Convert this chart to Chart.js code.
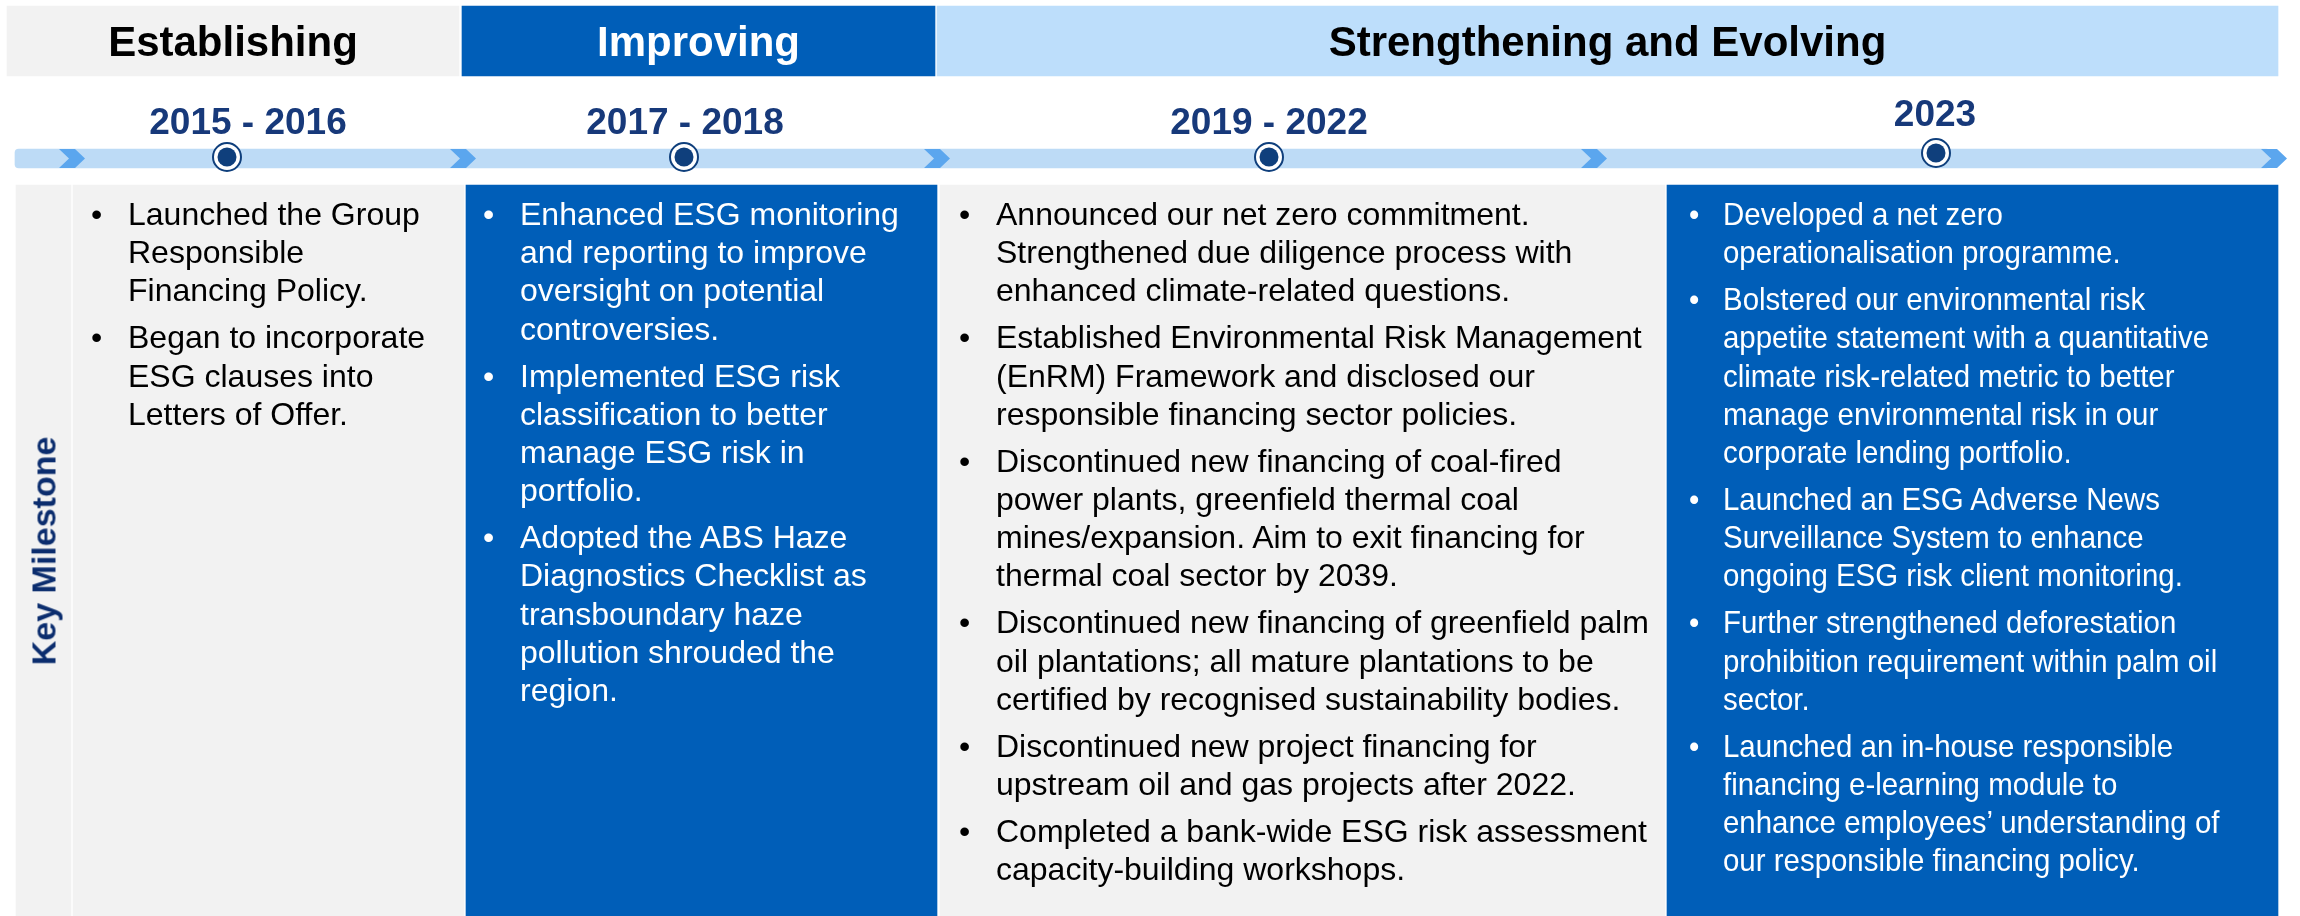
<!DOCTYPE html>
<html>
<head>
<meta charset="utf-8">
<title>Responsible financing journey</title>
<script src="https://cdn.jsdelivr.net/npm/chart.js@4.4.1/dist/chart.umd.min.js"></script>
<style>
    html, body { margin: 0; padding: 0; background: #ffffff; }
    #wrap {
        position: relative;
        width: 2300px;
        height: 916px;
        overflow: hidden;
        font-family: 'Liberation Sans', Arial, sans-serif;
    }
    #chart { position: absolute; left: 0; top: 0; }
    .lbl { position: absolute; white-space: nowrap; transform: translate(-50%, -50%); }
    .phase { font-size: 42px; font-weight: bold; }
    .period { font-size: 37px; font-weight: bold; color: #17397a; }
    .rowlbl { font-size: 34px; font-weight: bold; color: #0b2d6e; transform: translate(-50%, -50%) rotate(-90deg); }
    .col { position: absolute; font-size: 32px; line-height: 38.2px; white-space: nowrap; transform-origin: left top; }
    .item { position: relative; margin-bottom: 8.8px; }
    .item .dot { position: absolute; left: -37px; top: 0; }
</style>
</head>
<body>
<div id="wrap">
    <canvas id="chart" width="2300" height="916"></canvas>
</div>
<script>
// ==========================================
// Data
// ==========================================

const phases = ['Establishing', 'Improving', 'Strengthening and Evolving'];
// first and last period covered by each phase
const phaseFirst = [0, 1, 2];
const phaseLast = [0, 1, 3];

const periods = ['2015 - 2016', '2017 - 2018', '2019 - 2022', '2023'];
const rowLabel = 'Key Milestone';

const milestones2015 = [
    ['Launched the Group', 'Responsible', 'Financing Policy.'],
    ['Began to incorporate', 'ESG clauses into', 'Letters of Offer.']
];
const milestones2017 = [
    ['Enhanced ESG monitoring', 'and reporting to improve', 'oversight on potential', 'controversies.'],
    ['Implemented ESG risk', 'classification to better', 'manage ESG risk in', 'portfolio.'],
    ['Adopted the ABS Haze', 'Diagnostics Checklist as', 'transboundary haze', 'pollution shrouded the', 'region.']
];
const milestones2019 = [
    ['Announced our net zero commitment.', 'Strengthened due diligence process with', 'enhanced climate-related questions.'],
    ['Established Environmental Risk Management', '(EnRM) Framework and disclosed our', 'responsible financing sector policies.'],
    ['Discontinued new financing of coal-fired', 'power plants, greenfield thermal coal', 'mines/expansion. Aim to exit financing for', 'thermal coal sector by 2039.'],
    ['Discontinued new financing of greenfield palm', 'oil plantations; all mature plantations to be', 'certified by recognised sustainability bodies.'],
    ['Discontinued new project financing for', 'upstream oil and gas projects after 2022.'],
    ['Completed a bank-wide ESG risk assessment', 'capacity-building workshops.']
];
const milestones2023 = [
    ['Developed a net zero', 'operationalisation programme.'],
    ['Bolstered our environmental risk', 'appetite statement with a quantitative', 'climate risk-related metric to better', 'manage environmental risk in our', 'corporate lending portfolio.'],
    ['Launched an ESG Adverse News', 'Surveillance System to enhance', 'ongoing ESG risk client monitoring.'],
    ['Further strengthened deforestation', 'prohibition requirement within palm oil', 'sector.'],
    ['Launched an in-house responsible', 'financing e-learning module to', 'enhance employees\u2019 understanding of', 'our responsible financing policy.']
];
const milestones = [milestones2015, milestones2017, milestones2019, milestones2023];

// ==========================================
// Layout & styles (canvas units)
// ==========================================

const W = 2300, H = 916;
const LAYOUT = {
    phaseLeft: [7, 462, 937],
    phaseRight: [459, 935, 2278],
    phaseTop: 6, phaseBottom: 76,
    colLeft: [73, 466, 940, 1667],
    colRight: [464, 937, 1665, 2278],
    sideLeft: 16, sideRight: 71,
    panelTop: 185, panelBottom: 916,
    lineLeft: 15, lineRight: 2270, lineTop: 149, lineBottom: 168,
    chevronX: [72, 463, 937, 1594, 2274],
    dotX: [227, 684, 1269, 1936],
    dotY: [157, 157, 157, 153],
    periodX: [248, 685, 1269, 1935],
    periodY: [122, 122, 122, 114],
    textLeft: [128, 520, 996, 1723],
    textTop: 195,
    textScale: [1, 1, 1, 0.92]
};

const COLORS = {
    gray: '#f2f2f2',
    blue: '#005eb8',
    light: '#bddefb',
    track: '#bddbf6',
    chevron: '#5ba6ee',
    navy: '#0f3f7c'
};
const phaseFill = [COLORS.gray, COLORS.blue, COLORS.light];
const phaseText = ['#000000', '#ffffff', '#000000'];
const colFill = [COLORS.gray, COLORS.blue, COLORS.gray, COLORS.blue];
const colText = ['#000000', '#ffffff', '#000000', '#ffffff'];

document.addEventListener('DOMContentLoaded', () => {
    const chart = initChart();
    initLabels(chart);
});

/**
 * Chevron marker used on the timeline track
 */
function makeChevron() {
    const c = document.createElement('canvas');
    const w = 26, h = LAYOUT.lineBottom - LAYOUT.lineTop, tip = 10;
    c.width = w;
    c.height = h;
    const g = c.getContext('2d');
    g.fillStyle = COLORS.chevron;
    g.beginPath();
    g.moveTo(0, 0);
    g.lineTo(w - tip, 0);
    g.lineTo(w, h / 2);
    g.lineTo(w - tip, h);
    g.lineTo(0, h);
    g.lineTo(tip, h / 2);
    g.closePath();
    g.fill();
    return c;
}

function initChart() {
    const ctx = document.getElementById('chart');
    const L = LAYOUT;

    const headerBars = phases.map((p, i) => ({
        x: [L.phaseLeft[i], L.phaseRight[i]],
        y: (L.phaseTop + L.phaseBottom) / 2
    }));
    const panelBars = [{ x: [L.sideLeft, L.sideRight], y: (L.panelTop + L.panelBottom) / 2 }]
        .concat(periods.map((p, i) => ({
            x: [L.colLeft[i], L.colRight[i]],
            y: (L.panelTop + L.panelBottom) / 2
        })));
    const trackY = (L.lineTop + L.lineBottom) / 2;
    const dots = periods.map((p, i) => ({ x: L.dotX[i], y: L.dotY[i] }));

    return new Chart(ctx, {
        type: 'bar',
        data: {
            datasets: [
                {
                    type: 'scatter',
                    label: 'milestone',
                    indexAxis: 'x',
                    data: dots,
                    pointRadius: 9.5,
                    pointBackgroundColor: COLORS.navy,
                    pointBorderWidth: 0,
                    order: 1
                },
                {
                    type: 'scatter',
                    label: 'milestone ring',
                    indexAxis: 'x',
                    data: dots,
                    pointRadius: 14,
                    pointBackgroundColor: '#ffffff',
                    pointBorderColor: COLORS.navy,
                    pointBorderWidth: 2,
                    order: 2
                },
                {
                    type: 'scatter',
                    label: 'chevrons',
                    indexAxis: 'x',
                    data: L.chevronX.map(x => ({ x: x, y: trackY })),
                    pointStyle: makeChevron(),
                    order: 3
                },
                {
                    label: 'track',
                    data: [{ x: [L.lineLeft, L.lineRight], y: trackY }],
                    backgroundColor: COLORS.track,
                    barThickness: L.lineBottom - L.lineTop,
                    borderRadius: 4,
                    borderSkipped: false,
                    order: 4
                },
                {
                    label: 'phases',
                    data: headerBars,
                    backgroundColor: phaseFill,
                    barThickness: L.phaseBottom - L.phaseTop,
                    order: 5
                },
                {
                    label: 'panels',
                    data: panelBars,
                    backgroundColor: [COLORS.gray].concat(colFill),
                    barThickness: L.panelBottom - L.panelTop,
                    order: 6
                }
            ]
        },
        options: {
            indexAxis: 'y',
            responsive: false,
            animation: false,
            events: [],
            layout: { padding: 0, autoPadding: false },
            datasets: { bar: { grouped: false } },
            plugins: {
                legend: { display: false },
                tooltip: { enabled: false }
            },
            scales: {
                x: { type: 'linear', min: 0, max: W, offset: false, display: false },
                y: { type: 'linear', min: 0, max: H, reverse: true, offset: false, display: false }
            }
        }
    });
}

/**
 * Text labels placed through the chart scales
 */
function initLabels(chart) {
    const wrap = document.getElementById('wrap');
    const px = v => chart.scales.x.getPixelForValue(v);
    const py = v => chart.scales.y.getPixelForValue(v);
    const L = LAYOUT;

    function label(cls, text, x, y, color) {
        const el = document.createElement('div');
        el.className = 'lbl ' + cls;
        el.textContent = text;
        el.style.left = px(x) + 'px';
        el.style.top = py(y) + 'px';
        if (color) el.style.color = color;
        wrap.appendChild(el);
        return el;
    }

    phases.forEach((p, i) => {
        const left = L.phaseLeft[i], right = L.phaseRight[i];
        label('phase', p, (left + right) / 2, (L.phaseTop + L.phaseBottom) / 2 + 1, phaseText[i]);
    });

    periods.forEach((p, i) => label('period', p, L.periodX[i], L.periodY[i]));

    label('rowlbl', rowLabel, (L.sideLeft + L.sideRight) / 2, (L.panelTop + L.panelBottom) / 2);

    milestones.forEach((bullets, i) => {
        const col = document.createElement('div');
        col.className = 'col';
        col.style.left = px(L.textLeft[i]) + 'px';
        col.style.top = py(L.textTop) + 'px';
        col.style.color = colText[i];
        if (L.textScale[i] !== 1) col.style.transform = 'scaleX(' + L.textScale[i] + ')';
        bullets.forEach(lines => {
            const item = document.createElement('div');
            item.className = 'item';
            const dot = document.createElement('span');
            dot.className = 'dot';
            dot.textContent = '\u2022';
            item.appendChild(dot);
            lines.forEach((ln, k) => {
                if (k) item.appendChild(document.createElement('br'));
                item.appendChild(document.createTextNode(ln));
            });
            col.appendChild(item);
        });
        wrap.appendChild(col);
    });
}
</script>
</body>
</html>
